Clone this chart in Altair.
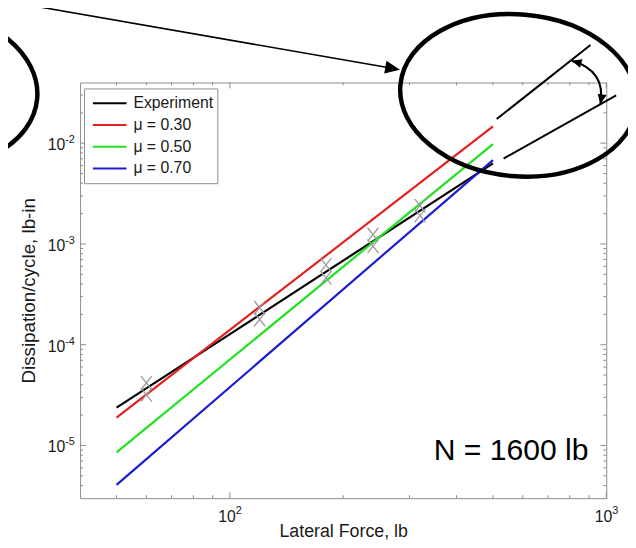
import math
import altair as alt
import pandas as pd

# ---------------- data ----------------
model_force = [50, 500]                      # lb, model/fit lines span
fit_experiment = [2.37e-5, 6.3e-3]           # lb-in
fit_mu_030 = [1.89e-5, 1.47e-2]
fit_mu_050 = [8.55e-6, 9.8e-3]
fit_mu_070 = [4.06e-6, 6.8e-3]
series_names = ["Experiment", "μ = 0.30", "μ = 0.50", "μ = 0.70"]
series_colors = ["#000000", "#e3201c", "#1ee21e", "#1c1cd2"]

test_force = [60, 60, 120, 120, 180, 180, 240, 240, 320, 320]
test_dissipation = [4.17e-5, 3.18e-5, 2.33e-4, 1.78e-4, 6.18e-4, 4.6e-4,
                    1.24e-3, 9.5e-4, 2.4e-3, 1.91e-3]

x_major_ticks = [100, 1000]
x_major_exp = ["2", "3"]
x_minor_ticks = [50, 60, 70, 80, 90, 200, 300, 400, 500, 600, 700, 800, 900]
y_major_ticks = [1e-5, 1e-4, 1e-3, 1e-2]
y_major_exp = ["-5", "-4", "-3", "-2"]
y_minor_ticks = ([m * 1e-6 for m in range(4, 10)] + [m * 1e-5 for m in range(2, 10)] +
                 [m * 1e-4 for m in range(2, 10)] + [m * 1e-3 for m in range(2, 10)] +
                 [2e-2, 3e-2])

x_title = "Lateral Force, lb"
y_title = "Dissipation/cycle, lb-in"
note_text = "N = 1600 lb"

# ---------------- layout / style ----------------
W, H = 533, 421
FONT = "Liberation Sans"
GRAY = "#8c8c8c"
TXT = "#1a1a1a"

xs = alt.Scale(type="log", domain=[40, 1000], nice=False, zero=False)
ysc = alt.Scale(type="log", domain=[3e-6, 4e-2], nice=False, zero=False)
xaxis = alt.Axis(title=x_title, labels=False, ticks=False, domain=False, grid=False,
                 titleFont=FONT, titleFontSize=18, titleFontWeight="normal",
                 titleColor=TXT, titlePadding=25)
yaxis = alt.Axis(title=y_title, labels=False, ticks=False, domain=False, grid=False,
                 titleFont=FONT, titleFontSize=19, titleFontWeight="normal",
                 titleColor=TXT, titlePadding=42)

X = lambda f: alt.X(f, scale=xs, axis=xaxis)
Y = lambda f: alt.Y(f, scale=ysc, axis=yaxis)

rows = []
for name, vals in zip(series_names, [fit_experiment, fit_mu_030, fit_mu_050, fit_mu_070]):
    for f, d in zip(model_force, vals):
        rows.append({"series": name, "force": f, "dissipation": d})
df_lines = pd.DataFrame(rows)
df_test = pd.DataFrame({"force": test_force, "dissipation": test_dissipation})

legend = alt.Legend(title=None, orient="none", legendX=4, legendY=6, direction="vertical",
                    fillColor="white", strokeColor=GRAY, padding=4,
                    symbolType="stroke", symbolSize=1156, symbolStrokeWidth=2,
                    symbolOffset=4, clipHeight=22, rowPadding=0,
                    labelFont=FONT, labelFontSize=16, labelColor=TXT,
                    labelOffset=6, labelLimit=250)

lines = alt.Chart(df_lines).mark_line(strokeWidth=2.2).encode(
    x=X("force:Q"), y=Y("dissipation:Q"),
    color=alt.Color("series:N", scale=alt.Scale(domain=series_names, range=series_colors),
                    legend=legend))

xpath = "M-1,-1.25L1,1.25M-1,1.25L1,-1.25"
markers = alt.Chart(df_test).mark_point(shape=xpath, size=121, filled=False, color="#9c9c9c",
                                        strokeWidth=1.3, opacity=1).encode(
    x=X("force:Q"), y=Y("dissipation:Q"))


def xticks(vals, length, top):
    y0, y1 = (0, length) if top else (H, H - length)
    return alt.Chart(pd.DataFrame({"force": vals})).mark_rule(color=GRAY, strokeWidth=1).encode(
        x=X("force:Q"), y=alt.value(y0), y2=alt.value(y1))


def yticks(vals, length, right):
    x0, x1 = (W, W - length) if right else (0, length)
    return alt.Chart(pd.DataFrame({"dissipation": vals})).mark_rule(color=GRAY, strokeWidth=1).encode(
        y=Y("dissipation:Q"), x=alt.value(x0), x2=alt.value(x1))


tick_layers = []
for top in (False, True):
    tick_layers.append(xticks(x_major_ticks, 6, top))
    tick_layers.append(xticks(x_minor_ticks, 3, top))
for right in (False, True):
    tick_layers.append(yticks(y_major_ticks, 6, right))
    tick_layers.append(yticks(y_minor_ticks, 3, right))

df_xl = pd.DataFrame({"force": x_major_ticks, "base": ["10"] * len(x_major_ticks), "exp": x_major_exp})
df_yl = pd.DataFrame({"dissipation": y_major_ticks, "base": ["10"] * len(y_major_ticks), "exp": y_major_exp})

xl_base = alt.Chart(df_xl).mark_text(align="right", baseline="alphabetic", fontSize=16, dx=6,
                                     font=FONT, color=TXT).encode(
    x=X("force:Q"), y=alt.value(H + 24), text="base:N")
xl_exp = alt.Chart(df_xl).mark_text(align="left", baseline="alphabetic", fontSize=11, dx=6,
                                    font=FONT, color=TXT).encode(
    x=X("force:Q"), y=alt.value(H + 16), text="exp:N")
yl_base = alt.Chart(df_yl).mark_text(align="right", baseline="alphabetic", fontSize=16, dy=7,
                                     font=FONT, color=TXT).encode(
    y=Y("dissipation:Q"), x=alt.value(-15), text="base:N")
yl_exp = alt.Chart(df_yl).mark_text(align="left", baseline="alphabetic", fontSize=11, dy=0,
                                    font=FONT, color=TXT).encode(
    y=Y("dissipation:Q"), x=alt.value(-15), text="exp:N")

one = pd.DataFrame({"k": [0]})
note = alt.Chart(one).mark_text(align="right", baseline="alphabetic", fontSize=30.5, font=FONT,
                                color="#000000").encode(
    x=alt.value(515), y=alt.value(382), text=alt.value(note_text))


# ---------------- annotation drawing (pixel space of the plot) ----------------
def ellipse_path(rx, ry):
    k = 0.5523
    return (f"M{rx},0 C{rx},{k*ry:.2f} {k*rx:.2f},{ry} 0,{ry} "
            f"C{-k*rx:.2f},{ry} {-rx},{k*ry:.2f} {-rx},0 "
            f"C{-rx},{-k*ry:.2f} {-k*rx:.2f},{-ry} 0,{-ry} "
            f"C{k*rx:.2f},{-ry} {rx},{-k*ry:.2f} {rx},0 Z")


def head_path(tip, frm, length, half):
    dx, dy = tip[0] - frm[0], tip[1] - frm[1]
    n = math.hypot(dx, dy)
    ux, uy = dx / n, dy / n
    bx, by = tip[0] - length * ux, tip[1] - length * uy
    px, py = -uy, ux
    return (f"M{tip[0]:.2f},{tip[1]:.2f} L{bx + half*px:.2f},{by + half*py:.2f} "
            f"L{bx - half*px:.2f},{by - half*py:.2f} Z")


def shape_layer(path, cx=0, cy=0, filled=False, sw=2, angle=0):
    return alt.Chart(one).mark_point(shape=path, size=4, filled=filled, color="#000000",
                                     strokeWidth=sw, opacity=1, angle=angle).encode(
        x=alt.value(cx), y=alt.value(cy))


def seg(x0, y0, x1, y1, sw):
    return alt.Chart(one).mark_rule(color="#000000", strokeWidth=sw).encode(
        x=alt.value(x0), y=alt.value(y0), x2=alt.value(x1), y2=alt.value(y1))


ell = ellipse_path(120, 82)
arrow_tail, arrow_tip = (-61, -80), (324, -13)
d = math.hypot(arrow_tip[0] - arrow_tail[0], arrow_tip[1] - arrow_tail[1])
base_pt = (arrow_tip[0] - 14 * (arrow_tip[0] - arrow_tail[0]) / d,
           arrow_tip[1] - 14 * (arrow_tip[1] - arrow_tail[1]) / d)
c0, cc, c1 = (498, -22), (533, -12), (527, 22)

annotations = [
    shape_layer(ell, 444, 13, sw=4.5, angle=5),
    shape_layer(ell, -163, 6, sw=4.5, angle=5),
    seg(arrow_tail[0], arrow_tail[1], base_pt[0], base_pt[1], 1.6),
    shape_layer(head_path(arrow_tip, arrow_tail, 15, 6.5), filled=True),
    seg(422, 37, 517, -38, 2),
    seg(429, 77, 543, 13, 2),
    shape_layer(f"M{c0[0]},{c0[1]} Q{cc[0]},{cc[1]} {c1[0]},{c1[1]}", sw=2),
    shape_layer(head_path(c0, cc, 10, 4.5), filled=True),
    shape_layer(head_path(c1, cc, 10, 4.5), filled=True),
]

chart = alt.layer(
    lines, markers, *tick_layers, xl_base, xl_exp, yl_base, yl_exp, note, *annotations
).properties(
    width=W, height=H,
    padding={"left": 73, "top": 72, "right": 22, "bottom": 46},
    autosize=alt.AutoSizeParams(type="none"),
    background="white",
).configure_view(stroke=GRAY, strokeWidth=1)

chart.save("out.html", embed_options={"renderer": "svg", "actions": False})
